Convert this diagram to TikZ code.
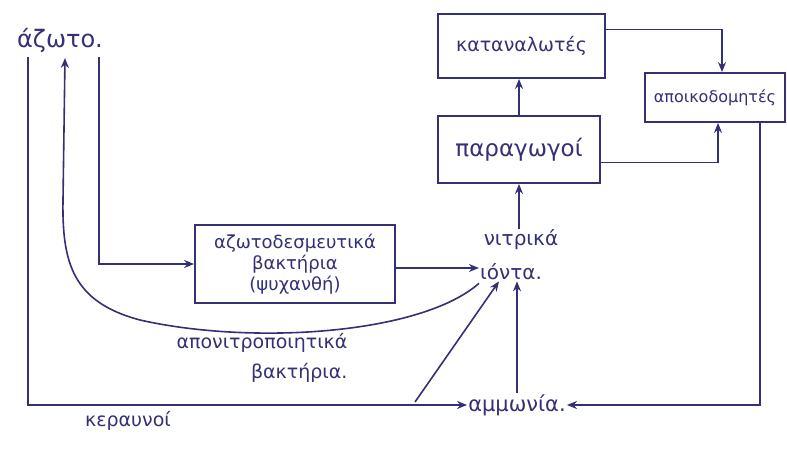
\documentclass[tikz,border=0pt]{standalone}
\usepackage{fontspec}
\setmainfont{DejaVu Sans}
\usetikzlibrary{arrows.meta,calc}
\definecolor{ink}{RGB}{52,48,118}
\tikzset{
  lnk/.style={draw=ink,line width=1.6pt,-{Stealth[length=10pt,width=8pt]}},
  boxn/.style={draw=ink,line width=1.8pt,text=ink,inner sep=0pt,align=center},
  txt/.style={text=ink,inner sep=1pt,align=center}
}
\begin{document}
\begin{tikzpicture}[x=1pt,y=-1pt]
\useasboundingbox (0,0) rectangle (787,454);
% boxes
\node[boxn,minimum width=167pt,minimum height=64pt,font=\fontsize{19}{22}\selectfont] (kat) at (521.5,46) {καταναλωτές};
\node[boxn,minimum width=140pt,minimum height=49pt,font=\fontsize{16}{18}\selectfont] (apo) at (715,97.5) {αποικοδομητές};
\node[boxn,minimum width=162pt,minimum height=67pt,font=\fontsize{23}{26}\selectfont] (par) at (519,149.5) {παραγωγοί};
\node[boxn,minimum width=200pt,minimum height=78pt,font=\fontsize{18}{21}\selectfont] (azo) at (295,264) {αζωτοδεσμευτικά\\βακτήρια\\(ψυχανθή)};
% texts
\node[txt,font=\fontsize{24}{28}\selectfont] (azt) at (60,40) {άζωτο.};
\node[txt,font=\fontsize{20}{24}\selectfont] (nit1) at (521,240) {νιτρικά};
\node[txt,font=\fontsize{20}{24}\selectfont] (nit2) at (511,272) {ιόντα.};
\node[txt,font=\fontsize{21}{24}\selectfont] (amm) at (517,405) {αμμωνία.};
\node[txt,font=\fontsize{19}{22}\selectfont] (ker) at (128,421) {κεραυνοί};
\node[txt,font=\fontsize{19}{30}\selectfont,align=right] (den) at (262,358) {απονιτροποιητικά\\βακτήρια.};
% coordinates
\coordinate (aL) at (28,57);
\coordinate (aR) at (99,57);
\coordinate (aM) at (65,58);
\coordinate (lt) at (415,402);
% connectors
\draw[lnk] (aL) |- (amm.west);
\draw[lnk] (aR) |- (azo.west);
\draw[lnk] ([yshift=-4pt]azo.east) -- ([yshift=-4pt]azo.east -| nit2.west);
\draw[lnk] (nit1.north -| par.south) -- (par.south);
\draw[lnk] (par.north) -- (par.north |- kat.south);
\draw[lnk] ($(kat.north east)!0.25!(kat.south east)$) -| ([xshift=7pt]apo.north);
\draw[lnk] ($(par.north east)!0.69!(par.south east)$) -| ([xshift=3pt]apo.south);
\draw[lnk] ([xshift=45pt]apo.south) |- (amm.east);
\draw[lnk] (amm.north) -- (amm.north |- nit2.south);
\draw[lnk] (lt) -- ([xshift=-12pt]nit2.south);
\draw[lnk] ([xshift=-32pt,yshift=-2pt]nit2.south) .. controls (420,335) and (250,345) .. (140,320) .. controls (72,302) and (62,262) .. (63,200) -- (aM);
\end{tikzpicture}
\end{document}
